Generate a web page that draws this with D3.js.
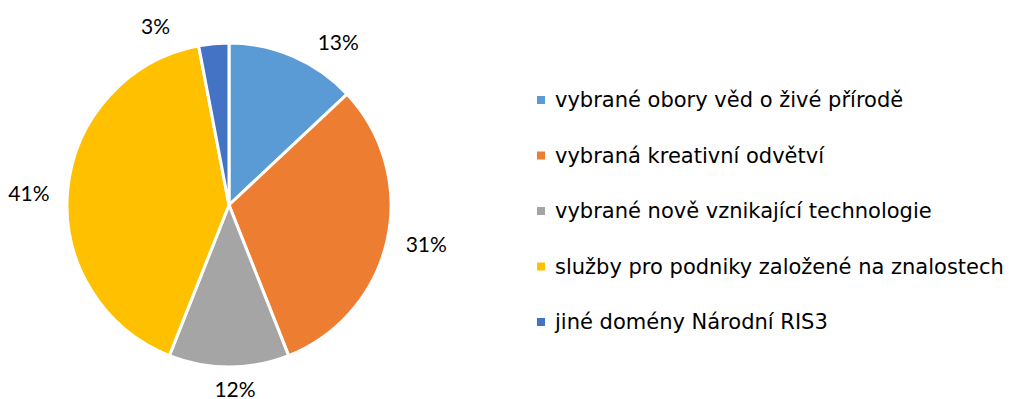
<!DOCTYPE html>
<html>
<head>
<meta charset="utf-8">
<script src="https://cdn.jsdelivr.net/npm/d3@7/dist/d3.min.js"></script>
<style>
  html, body { margin: 0; padding: 0; background: #fff; }
  svg { display: block; }
</style>
</head>
<body>
<svg id="chart" width="1011" height="399"></svg>
<script>
// Podíl domén specializace (v %)
const categories = [
  "vybrané obory věd o živé přírodě",
  "vybraná kreativní odvětví",
  "vybrané nově vznikající technologie",
  "služby pro podniky založené na znalostech",
  "jiné domény Národní RIS3"
];
const shares = [13, 31, 12, 41, 3];
const colors = ["#5B9BD5", "#ED7D31", "#A5A5A5", "#FFC000", "#4472C4"];

// Layout
const cx = 229, cy = 205, radius = 162;
const labelRadius = 197;
// pixel nudges for data labels so they sit clear of the slice edges
const labelNudge = [[31, 17], [5, -4], [6, -14], [-4, 6], [-55, 17]];

const svg = d3.select("#chart");

const data = categories.map((c, i) => ({ name: c, value: shares[i], color: colors[i], i }));

const pie = d3.pie().value(d => d.value).sort(null);
const arcs = pie(data);
const arc = d3.arc().innerRadius(0).outerRadius(radius);
const labelArc = d3.arc().innerRadius(labelRadius).outerRadius(labelRadius);

const g = svg.append("g").attr("transform", `translate(${cx},${cy})`);

g.selectAll("path.slice")
  .data(arcs)
  .join("path")
  .attr("class", "slice")
  .attr("d", arc)
  .attr("fill", d => d.data.color)
  .attr("stroke", "#fff")
  .attr("stroke-width", 3)
  .attr("stroke-linejoin", "round");

g.selectAll("text.pct")
  .data(arcs)
  .join("text")
  .attr("class", "pct")
  .attr("x", d => labelArc.centroid(d)[0] + labelNudge[d.data.i][0])
  .attr("y", d => labelArc.centroid(d)[1] + labelNudge[d.data.i][1])
  .attr("text-anchor", "middle")
  .attr("dominant-baseline", "central")
  .attr("font-family", "Lato, 'Open Sans', sans-serif")
  .attr("font-size", 21)
  .attr("fill", "#000")
  .text(d => d.data.value + "%");

// Legend
const legendX = 537, legendY0 = 100, legendStep = 55.5;
const legend = svg.append("g");
const rows = legend.selectAll("g.row")
  .data(data)
  .join("g")
  .attr("class", "row")
  .attr("transform", (d, i) => `translate(${legendX},${legendY0 + i * legendStep})`);

rows.append("rect")
  .attr("x", 0).attr("y", -4)
  .attr("width", 8).attr("height", 8)
  .attr("fill", d => d.color);

rows.append("text")
  .attr("x", 18)
  .attr("y", 0)
  .attr("dominant-baseline", "central")
  .attr("font-family", "'DejaVu Sans', sans-serif")
  .attr("font-size", 21)
  .attr("fill", "#000")
  .text(d => d.name);
</script>
</body>
</html>
